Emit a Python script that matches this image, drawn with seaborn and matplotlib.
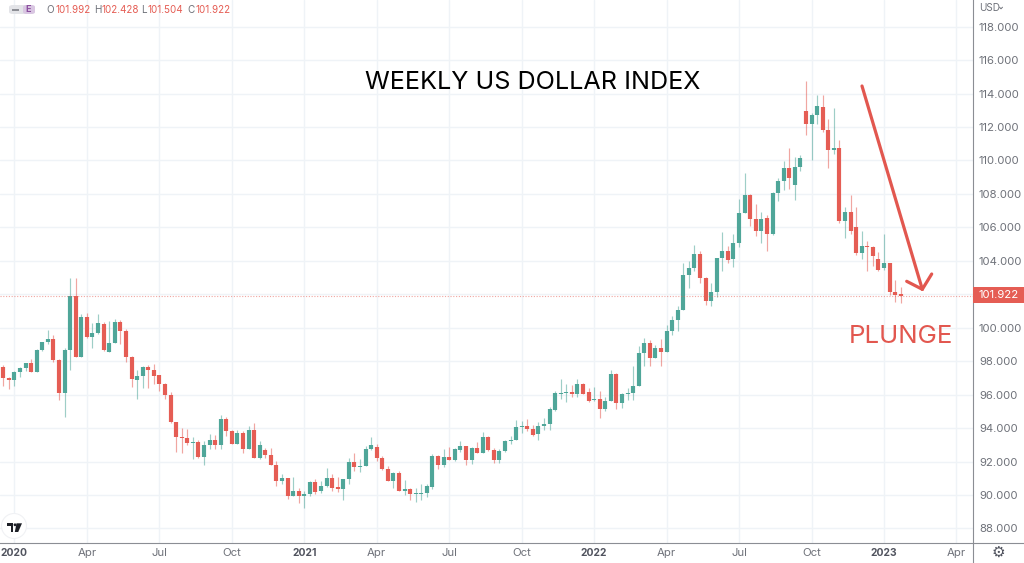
import matplotlib
matplotlib.use("Agg")
import matplotlib.pyplot as plt
from matplotlib.lines import Line2D
from matplotlib.patches import Circle, Polygon, Rectangle, FancyBboxPatch
import numpy as np
import pandas as pd
import seaborn as sns

opens = [97.64,97.01,96.87,97.33,97.62,97.88,97.35,98.65,99.13,99.33,
         98.10,96.10,98.67,101.90,98.28,100.63,99.45,99.68,100.20,98.55,
         99.09,100.34,99.78,98.28,96.85,97.09,97.66,97.50,97.15,96.65,
         96.00,94.34,93.47,93.39,93.09,93.19,92.30,92.97,93.29,93.01,
         94.57,93.82,93.07,93.72,92.77,93.88,92.22,92.71,92.40,91.78,
         90.81,91.01,89.94,90.24,89.94,90.06,90.79,90.24,90.55,91.03,
         90.47,90.34,90.93,92.00,91.66,91.74,92.73,92.89,92.20,91.56,
         90.85,91.31,90.24,90.34,90.04,90.06,90.14,90.51,92.34,91.78,
         92.28,92.10,92.71,92.91,92.08,92.79,92.51,93.47,92.71,92.12,
         92.61,93.25,93.30,94.06,94.10,93.94,93.66,94.14,94.26,95.09,
         96.06,96.08,96.14,96.04,96.65,96.14,95.66,95.72,95.15,95.64,
         97.21,95.48,96.04,96.12,96.53,98.50,99.09,98.20,98.79,98.55,
         99.80,100.47,101.09,103.17,103.60,104.42,102.97,101.58,102.12,104.14,
         104.61,104.08,105.08,106.85,107.94,106.49,105.77,106.53,105.63,108.06,
         108.78,109.56,108.56,109.60,112.98,112.15,112.72,113.18,111.83,110.65,
         110.75,106.37,106.93,106.03,104.46,104.90,104.80,104.08,103.60,103.86,
         102.13,101.992]
closes = [96.99,96.87,97.33,97.62,97.88,97.35,98.67,99.13,99.33,98.06,
          96.08,98.67,101.90,98.28,100.65,99.45,99.68,100.26,98.65,99.07,
          100.34,99.78,98.28,96.95,97.09,97.66,97.48,97.13,96.63,96.00,
          94.34,93.47,93.39,93.09,93.19,92.28,92.97,93.29,93.01,94.57,
          93.80,93.07,93.72,92.73,93.88,92.24,92.97,92.40,91.78,90.81,
          91.01,89.92,90.24,89.94,90.08,90.79,90.20,90.55,91.03,90.45,
          90.36,90.93,92.00,91.66,91.76,92.73,93.01,92.20,91.54,90.85,
          91.33,90.24,90.34,90.04,90.10,90.14,90.53,92.34,91.80,92.28,
          92.10,92.73,92.91,92.08,92.79,92.53,93.47,92.67,92.12,92.65,
          93.25,93.30,94.06,94.12,93.94,93.58,94.14,94.22,95.13,96.08,
          96.10,96.14,96.04,96.65,96.06,95.64,95.72,95.17,95.62,97.21,
          95.48,96.04,96.12,96.53,98.48,99.09,98.20,98.79,98.55,99.80,
          100.47,101.09,103.15,103.60,104.42,102.99,101.58,102.14,104.14,104.61,
          104.06,105.08,106.83,107.94,106.49,105.77,106.51,105.63,108.06,108.78,
          109.56,108.94,109.60,110.16,112.15,112.70,113.26,111.83,110.63,110.75,
          106.37,106.93,105.81,104.46,104.88,104.82,104.28,103.44,103.86,102.13,
          101.93,101.922]
highs = [97.76,97.07,97.41,97.66,97.92,98.16,98.71,99.17,99.88,99.58,
         98.14,98.79,102.95,102.95,100.83,100.89,100.28,100.85,100.34,100.38,
         100.53,100.44,99.94,98.30,97.45,97.70,97.76,97.82,97.19,96.69,
         96.16,94.38,94.00,93.94,93.49,93.31,93.25,93.66,93.60,94.77,
         94.65,93.90,93.90,93.80,94.14,94.30,93.23,92.83,92.81,92.06,
         91.25,91.03,91.05,90.40,90.24,90.83,90.97,90.81,91.62,91.23,
         91.09,90.97,92.22,92.52,92.16,92.95,93.45,93.07,92.36,91.74,
         91.37,91.45,90.91,90.41,90.45,90.65,90.63,92.46,92.41,92.77,
         92.85,92.81,93.23,92.95,92.87,93.19,93.74,93.51,92.81,92.75,
         93.29,93.54,94.50,94.44,94.55,94.18,94.34,94.63,95.29,96.24,
         96.93,96.63,96.57,96.91,96.69,96.38,96.45,96.22,95.84,97.45,
         97.27,96.12,96.42,97.72,98.89,99.40,99.25,98.95,99.35,100.14,
         100.71,101.29,103.88,104.00,104.95,104.59,103.01,102.67,104.16,105.72,
         104.89,105.59,107.69,109.26,107.98,107.39,106.89,106.75,108.14,108.98,
         109.94,110.75,110.22,110.30,114.76,112.85,113.90,113.90,112.47,113.12,
         111.25,107.23,107.94,107.19,105.77,105.20,104.88,104.50,105.59,103.88,
         102.84,102.428]
lows = [96.52,96.36,96.53,97.07,97.39,97.33,97.33,98.59,99.03,97.94,
        95.70,94.65,97.47,98.26,98.26,99.39,98.79,99.64,98.63,98.53,
        99.07,99.01,97.96,96.44,95.74,96.42,96.38,96.63,96.24,95.76,
        94.32,92.55,92.53,92.97,92.14,92.20,91.78,92.73,92.77,92.77,
        93.54,93.05,93.03,92.49,92.75,92.22,92.14,92.24,91.78,90.52,
        90.65,89.76,89.92,89.54,89.25,89.94,90.08,90.12,90.51,90.26,
        90.16,89.72,90.65,91.41,91.35,91.74,92.71,92.02,91.52,90.83,
        90.45,90.22,90.02,89.68,89.56,89.68,89.88,90.37,91.54,91.70,
        92.08,92.06,92.55,91.80,91.84,92.51,92.49,92.65,91.92,91.90,
        92.59,93.05,93.27,93.70,93.82,93.50,93.29,93.86,93.88,95.05,
        95.74,95.54,95.88,95.88,96.04,95.56,95.64,94.63,95.05,95.62,
        95.15,95.19,95.68,95.68,96.53,97.72,97.72,98.18,97.70,98.53,
        99.55,99.82,101.05,102.36,103.37,102.65,101.38,101.29,101.86,103.40,
        103.84,103.66,104.80,106.83,106.09,105.51,105.04,104.60,105.55,107.55,
        108.24,108.32,107.66,109.34,111.53,110.04,112.15,111.71,109.52,110.39,
        106.25,105.34,105.63,104.36,104.08,103.40,103.70,103.38,103.44,101.97,
        101.51,101.504]

tick_weeks = [2, 15, 28, 41, 54, 67, 80, 93, 106, 119, 132, 145, 158, 171]
tick_labels = ["2020", "Apr", "Jul", "Oct", "2021", "Apr", "Jul", "Oct",
               "2022", "Apr", "Jul", "Oct", "2023", "Apr"]
price_ticks = list(range(88, 120, 2))
last_price = 101.922

GREEN = "#4fa699"
RED = "#e55d54"
GRID = "#eff3f7"
AXIS = "#8b8e94"
TEXT = "#6f727a"

sns.set_theme(style="white", rc={"axes.facecolor": "white"})
plt.rcParams["font.family"] = ["Inter", "DejaVu Sans"]

W, H = 1024, 563
fig = plt.figure(figsize=(W / 100, H / 100), dpi=100)
ax = fig.add_axes([0, 20 / H, 973 / W, 543 / H])


def px(x, y):
    return x / W, 1 - y / H


df = pd.DataFrame({"open": opens, "high": highs, "low": lows, "close": closes})
df["week"] = np.arange(len(df))
df["up"] = df["close"] >= df["open"]
df["top"] = df[["open", "close"]].max(axis=1)
df["bottom"] = df[["open", "close"]].min(axis=1)

wicks = df.melt(id_vars=["week", "up"], value_vars=["high", "low"], value_name="price")
bodies = df.melt(id_vars=["week", "up"], value_vars=["top", "bottom"], value_name="price")
palette = {True: GREEN, False: RED}

sns.lineplot(data=wicks, x="week", y="price", hue="up", units="week", estimator=None,
             sort=False, palette=palette, linewidth=0.85, alpha=0.55, legend=False,
             solid_capstyle="butt", ax=ax)
sns.lineplot(data=bodies, x="week", y="price", hue="up", units="week", estimator=None,
             sort=False, palette=palette, linewidth=3.0, legend=False,
             solid_capstyle="butt", ax=ax)

ax.set_xlim(-0.592, 173.97)
ax.set_ylim(87.133, 119.59)
ax.set_xlabel("")
ax.set_ylabel("")
ax.set_axisbelow(True)
ax.grid(True, color=GRID, linewidth=1)

ax.axhline(last_price, color=RED, linewidth=0.8, linestyle=(0, (1, 1.5)), alpha=0.55)

ax.set_xticks(tick_weeks)
ax.set_xticklabels(tick_labels)
ax.tick_params(axis="x", length=0, pad=3.5, labelsize=8.2)
for lab in ax.get_xticklabels():
    if lab.get_text().isdigit():
        lab.set_color("#50535e")
        lab.set_fontweight("bold")
        lab.set_fontsize(7.4)
    else:
        lab.set_color(TEXT)

# the 102 label sits behind the last price tag, as in a real price scale
ax.yaxis.tick_right()
ax.set_yticks(price_ticks)
ax.set_yticklabels(["" if p == 102 else f"{p:.3f}" for p in price_ticks])
ax.tick_params(axis="y", length=0, pad=4.3, labelsize=8.2, labelcolor=TEXT)

for side in ["top", "left"]:
    ax.spines[side].set_visible(False)
for side in ["right", "bottom"]:
    ax.spines[side].set_color(AXIS)
    ax.spines[side].set_linewidth(0.8)
fig.add_artist(Line2D([973 / W, 973 / W], [0, 20 / H], color=AXIS, linewidth=0.8))
fig.add_artist(Line2D([973 / W, 1], [20 / H, 20 / H], color=AXIS, linewidth=0.8))

# last price tag on the scale
fig.add_artist(Rectangle(px(973, 303), 51 / W, 16 / H, color=RED, lw=0))
fig.text(*px(998.5, 295.5), f"{last_price:.3f}", color="white", fontsize=8.2,
         ha="center", va="center")
fig.text(*px(979, 8), "USD", color=TEXT, fontsize=7.2, ha="left", va="center")
xs, ys = zip(*[px(*p) for p in [(999.5, 7.2), (1001, 8.8), (1002.5, 7.2)]])
fig.add_artist(Line2D(xs, ys, color=TEXT, linewidth=0.7))

# title and hand drawn notes
fig.text(*px(532.5, 82.5), "WEEKLY US DOLLAR INDEX", color="black", fontsize=18.1,
         ha="center", va="center")
fig.text(*px(901, 336.5), "PLUNGE", color="#e2574f", fontsize=18.6, ha="center",
         va="center")
for seg in [[(862, 86), (922.3, 289.3)], [(906.7, 281.3), (922.3, 289.3)],
            [(931.7, 274), (922.3, 289.3)]]:
    xs, ys = zip(*[px(*p) for p in seg])
    fig.add_artist(Line2D(xs, ys, color="#e2574f", linewidth=2.3, solid_capstyle="round"))

# OHLC header
fig.add_artist(FancyBboxPatch(px(9, 14), 26 / W, 9 / H, transform=fig.transFigure,
                              boxstyle="round,pad=0,rounding_size=0.004",
                              facecolor="#e3e4e8", edgecolor="none"))
fig.add_artist(Rectangle(px(12, 10.5), 7 / W, 1.6 / H, color="#8d8f96", lw=0))
fig.add_artist(FancyBboxPatch(px(23, 14), 12 / W, 9 / H, transform=fig.transFigure,
                              boxstyle="round,pad=0,rounding_size=0.004",
                              facecolor="#d9c6e2", edgecolor="none"))
fig.text(*px(28.5, 9.8), "E", color="#8a4f9e", fontsize=6.5, ha="center", va="center",
         fontweight="bold")
header = [(46, "O", TEXT), (55, "101.992", RED), (94, "H", TEXT), (102, "102.428", RED),
          (141, "L", TEXT), (148, "101.504", RED), (187, "C", TEXT), (195, "101.922", RED)]
for x, s, c in header:
    fig.text(*px(x, 10), s, color=c, fontsize=7.1, ha="left", va="center")

# TradingView badge and settings gear
badge = fig.add_axes([0, 20 / H, 30 / W, 30 / H], facecolor="none")
badge.axis("off")
badge.set_xlim(0, 30)
badge.set_ylim(543, 513)
badge.add_patch(Circle((14, 526), 12.5, facecolor="white", edgecolor="#f0f1f4", linewidth=0.8))
badge.add_patch(Polygon([(7.3, 523.3), (13.4, 523.3), (13.4, 532), (10.6, 532),
                         (10.6, 526), (7.3, 526)], color="#1d1f26", lw=0))
badge.add_patch(Circle((15, 524.8), 1.4, color="#1d1f26", lw=0))
badge.add_patch(Polygon([(16.5, 523.3), (22, 523.3), (18.2, 532), (14.8, 532)],
                        color="#1d1f26", lw=0))
fig.text(*px(998, 552), "⚙", color="#50535e", fontsize=11, ha="center", va="center",
         family=["DejaVu Sans"])

fig.savefig("out.png", dpi=100)
